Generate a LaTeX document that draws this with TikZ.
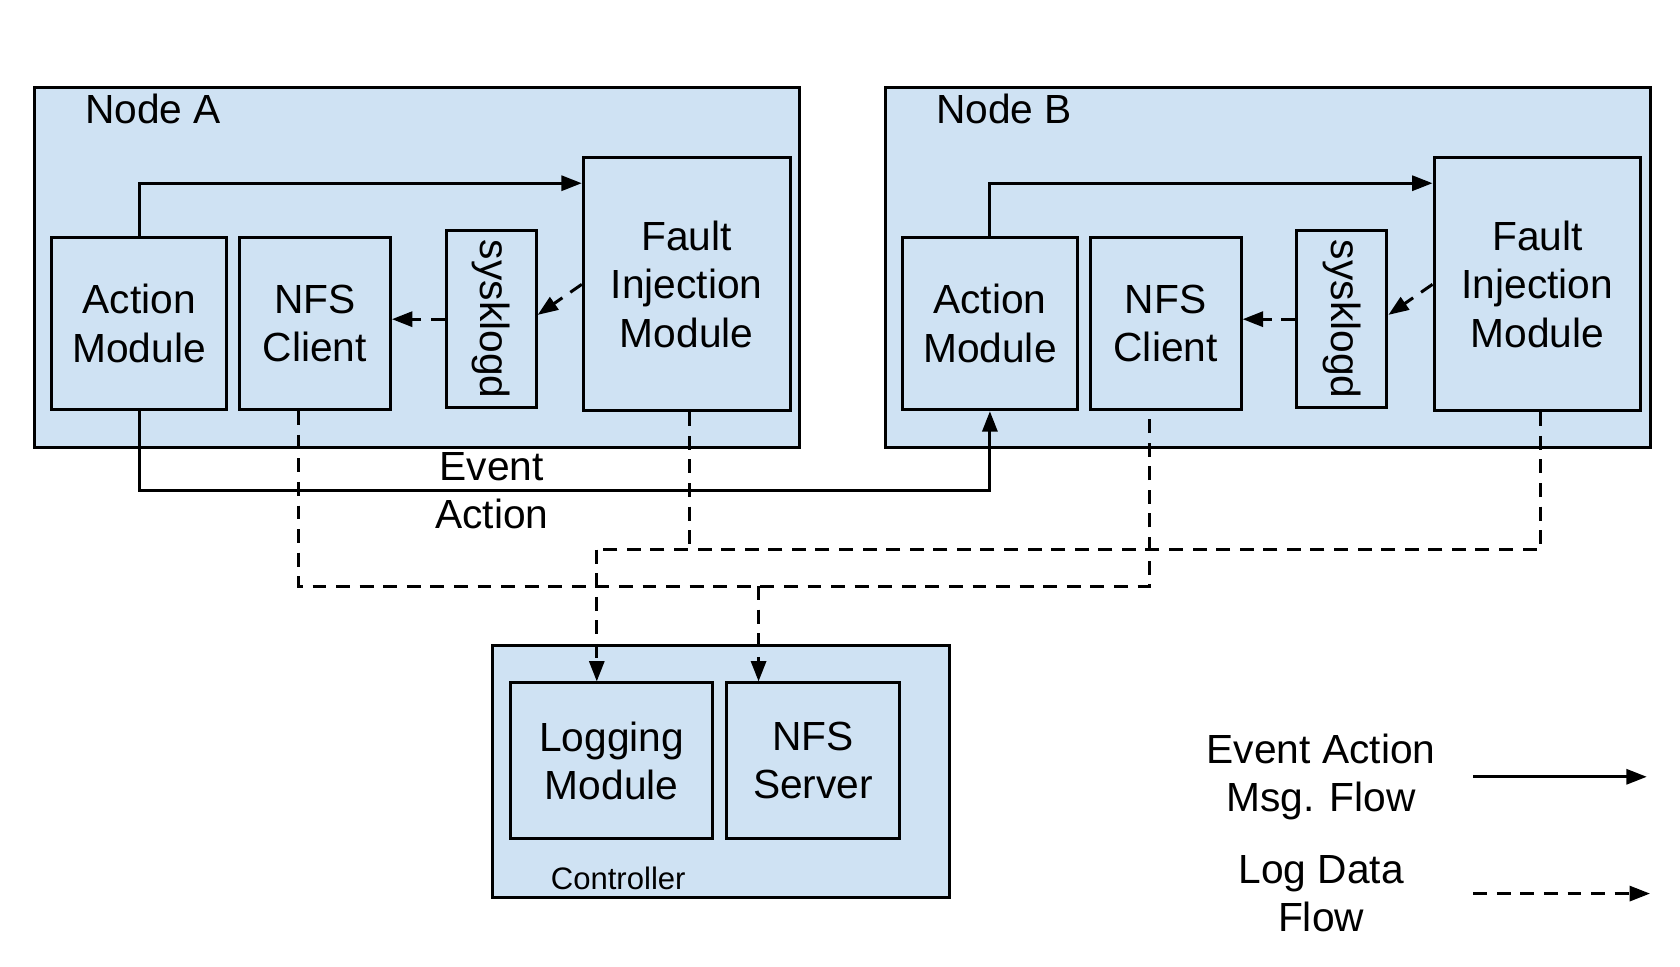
\documentclass[tikz,border=0pt]{standalone}
\usepackage{fontspec}
\setmainfont{Liberation Sans}
\usetikzlibrary{arrows.meta,calc}
\definecolor{boxblue}{HTML}{CFE2F3}
\tikzset{
	outer/.style={draw, fill=boxblue, line width=2.8pt, anchor=north west, inner sep=0pt},
	module/.style={outer, align=center, font=\fontsize{38}{45}\selectfont},
	tag/.style={align=center, font=\fontsize{38}{45}\selectfont},
	tip/.style={-{Triangle[length=19pt,width=14pt]}},
	evt/.style={line width=2.8pt, tip},
	logd/.style={line width=2.8pt, dash pattern=on 13pt off 9pt},
}

\begin{document}
\begin{tikzpicture}[x=1pt, y=-1pt]
	\useasboundingbox (0,0) rectangle (1568,902);
	% the two hosts
	\foreach \n/\dx in {A/0,B/794}{
		\node[outer, minimum width=714pt, minimum height=336pt] (host\n) at (31+\dx,80) {};
		\node[tag] (name\n) at (143+\dx,102) {Node \n};
		\node[module, minimum width=163pt, minimum height=161pt] (act\n) at (47+\dx,220) {Action\\Module};
		\node[module, minimum width=141pt, minimum height=161pt] (nfs\n) at (222+\dx,220) {NFS\\Client};
		\node[module, minimum width=84pt, minimum height=165pt,
			label={[tag,rotate=-90]center:sysklogd}] (syslog\n) at (415+\dx,214) {};
		\node[module, minimum width=193pt, minimum height=236pt] (fim\n) at (543+\dx,146) {Fault\\Injection\\Module};
		\draw[evt] (act\n.north) |- ($(fim\n.north west)+(0,25)$);
		\draw[logd, tip] (fim\n.west) -- ($(syslog\n.east)+(0,-4)$);
		\draw[logd, tip] (syslog\n.west) -- (syslog\n.west -| nfs\n.east);
		\coordinate (nfs\n out) at ($(nfs\n.south)+(-15,0)$);
		\coordinate (fim\n out) at ($(fim\n.south)+(3,0)$);
	}
	% controller
	\node[outer, minimum width=427pt, minimum height=235pt] (ctrl) at (458,601) {};
	\node[module, minimum width=189pt, minimum height=145pt] (logm) at (475,636) {Logging\\Module};
	\node[module, minimum width=161pt, minimum height=145pt] (srv) at (677,636) {NFS\\Server};
	\node[font=\fontsize{29}{34}\selectfont] (ctrlname) at (577,820) {Controller};
	% event action message
	\draw[evt] (actA.south) -- ++(0,74) -| (actB.south);
	\node[tag] (evtlbl) at (459,458) {Event\\Action};
	% log data
	\coordinate (busN) at (708,547);
	\coordinate (busF) at (557,513);
	\draw[logd] (nfsAout) |- (busN) -| (nfsBout);
	\draw[logd, tip] (busN) -- (busN |- srv.north);
	\draw[logd] (fimBout) |- (busF);
	\draw[logd] (fimAout) -- (fimAout |- busF);
	\draw[logd, tip] (busF) -- (busF |- logm.north);
	% legend
	\node[tag] (lgEvt) at (1233,725) {Event Action\\Msg. Flow};
	\node[tag] (lgLog) at (1233,834) {Log Data\\Flow};
	\coordinate (evtS) at (1375,725);
	\coordinate (evtE) at (1537,725);
	\coordinate (logS) at (1375,834);
	\coordinate (logE) at (1540,834);
	\draw[evt] (evtS) -- (evtE);
	\draw[logd, tip] (logS) -- (logE);
\end{tikzpicture}
\end{document}
